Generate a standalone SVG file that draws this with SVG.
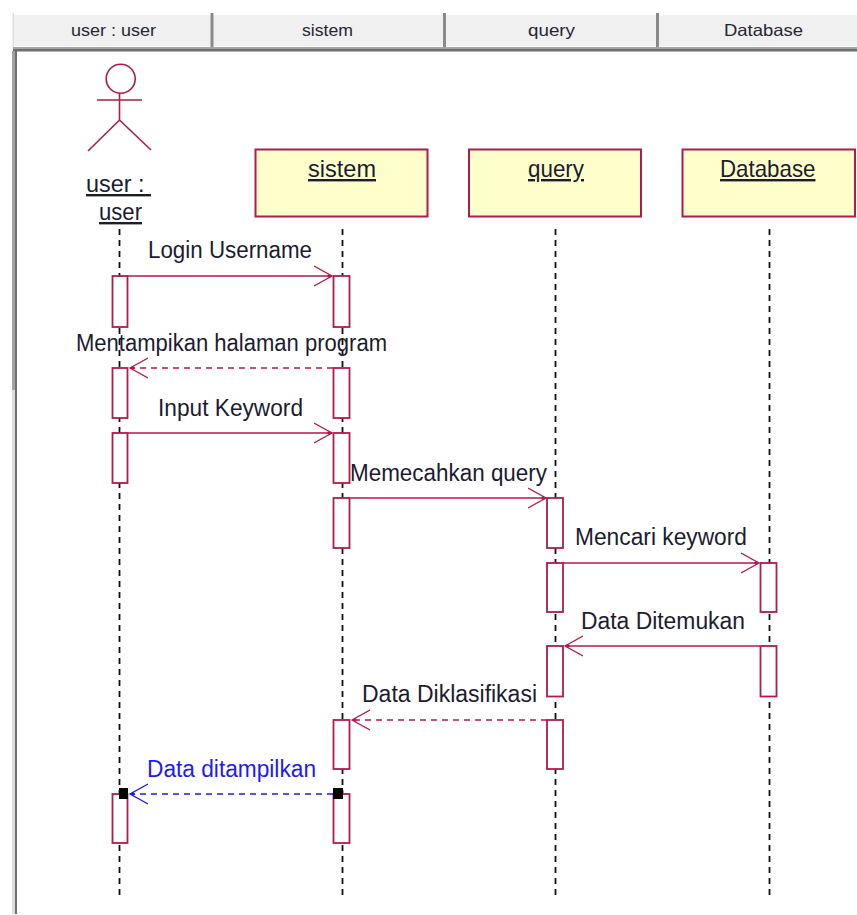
<svg xmlns="http://www.w3.org/2000/svg" width="857" height="915" viewBox="0 0 857 915">
<defs>
<marker id="open" markerUnits="userSpaceOnUse" markerWidth="22" markerHeight="24" refX="18" refY="12" orient="auto"><path d="M0 2 L18 12 L0 22" fill="none" stroke="context-stroke" stroke-width="1.3"/><circle cx="15" cy="12" r="1.7" fill="context-stroke"/></marker>
</defs>
<style>
text{font-family:"Liberation Sans",Arial,sans-serif;fill:#1c1c30}
.tab{fill:#f0f0f0}
.tabt{font-size:16.5px;fill:#262630}
.obj{fill:#ffffcb;stroke:#b01a4e;stroke-width:2}
.objt{font-size:24px;text-decoration:underline}
.life{stroke:#111;stroke-width:1.8;stroke-dasharray:6 5;fill:none}
.act{fill:#fff;stroke:#b01a4e;stroke-width:1.8}
.msg{stroke:#b01a4e;stroke-width:1.7;fill:none;marker-end:url(#open)}
.dash{stroke-dasharray:6 5}
.lab{font-size:23px}
.act-line{stroke:#b01a4e;stroke-width:1.6;fill:none}
</style>
<g id="header">
<rect x="14" y="15" width="843" height="32" class="tab"/>
<rect x="12.500" y="13" width="1.500" height="34" fill="#ddd"/>
<rect x="14" y="46" width="843" height="1" fill="#fff"/>
<rect x="210.500" y="13" width="3" height="34" fill="#8a8a8a"/>
<rect x="443" y="13" width="3" height="34" fill="#8a8a8a"/>
<rect x="656" y="13" width="3" height="34" fill="#8a8a8a"/>
<rect x="13" y="47" width="844" height="2" fill="#a4a4a4"/>
<rect x="13" y="49" width="844" height="2" fill="#6f6f6f"/>
<rect x="13" y="51" width="844" height="1" fill="#b4b4b4"/>
<rect x="12" y="51" width="3" height="339" fill="#a4a4a4"/>
<rect x="12" y="390" width="3" height="524" fill="#dcdcdc"/>
<rect x="15" y="51" width="2" height="863" fill="#6f6f6f"/>
<text class="tabt" x="71" y="36" textLength="85" lengthAdjust="spacingAndGlyphs">user : user</text>
<text class="tabt" x="302" y="36" textLength="51" lengthAdjust="spacingAndGlyphs">sistem</text>
<text class="tabt" x="528" y="36" textLength="47" lengthAdjust="spacingAndGlyphs">query</text>
<text class="tabt" x="724" y="36" textLength="79" lengthAdjust="spacingAndGlyphs">Database</text>
</g>
<g id="lifelines">
<path class="life" d="M119.500 229V895"/>
<path class="life" d="M342.500 229V895"/>
<path class="life" d="M555.500 229V895"/>
<path class="life" d="M769.500 229V895"/>
</g>
<g id="user">
<circle cx="120.700" cy="78.700" r="14.500" fill="none" stroke="#b01a4e" stroke-width="1.600"/>
<path class="act-line" d="M119.500 93V120M97 100H142M119.500 120L88 151M119.500 120L151 150"/>
<text class="objt" x="86" y="192" xml:space="preserve" style="white-space:pre" textLength="65" lengthAdjust="spacingAndGlyphs">user : </text>
<text class="objt" x="99" y="220" textLength="43" lengthAdjust="spacingAndGlyphs">user</text>
</g>
<g id="sistem"><rect class="obj" x="255.500" y="149.500" width="172" height="67"/><text class="objt" x="308" y="177" textLength="68" lengthAdjust="spacingAndGlyphs">sistem</text></g>
<g id="query"><rect class="obj" x="469" y="149.500" width="172" height="67"/><text class="objt" x="528" y="177" textLength="56" lengthAdjust="spacingAndGlyphs">query</text></g>
<g id="database"><rect class="obj" x="682.500" y="149.500" width="172.500" height="67"/><text class="objt" x="720" y="177" textLength="95.500" lengthAdjust="spacingAndGlyphs">Database</text></g>
<g id="activations">
<rect class="act" x="112.500" y="276" width="15" height="51"/>
<rect class="act" x="333.500" y="276" width="16" height="51"/>
<rect class="act" x="112.500" y="368" width="15" height="50"/>
<rect class="act" x="333.500" y="368" width="16" height="50"/>
<rect class="act" x="112.500" y="433" width="15" height="50"/>
<rect class="act" x="333.500" y="433" width="16" height="50"/>
<rect class="act" x="333.500" y="498" width="16" height="50"/>
<rect class="act" x="547" y="498" width="16" height="50"/>
<rect class="act" x="547" y="563" width="16" height="49"/>
<rect class="act" x="760.500" y="563" width="16" height="49"/>
<rect class="act" x="547" y="646" width="16" height="50.500"/>
<rect class="act" x="760.500" y="646" width="16" height="50.500"/>
<rect class="act" x="333.500" y="720" width="16" height="49"/>
<rect class="act" x="547" y="720" width="16" height="49"/>
<rect class="act" x="112.500" y="794" width="15" height="49"/>
<rect class="act" x="333.500" y="794" width="16" height="49"/>
</g>
<g id="connectors">
<path class="msg" d="M128 276H332"/>
<path class="msg dash" d="M333 368H130"/>
<path class="msg" d="M128 433H332"/>
<path class="msg" d="M350 498H546"/>
<path class="msg" d="M563 563H759"/>
<path class="msg" d="M760 646H565"/>
<path class="msg dash" d="M547 720H352"/>
<path class="msg dash" d="M333 794H130" style="stroke:#1a1aff"/>
<rect x="119" y="788" width="9" height="11" fill="#000"/>
<rect x="333" y="788" width="10" height="11" fill="#000"/>
</g>
<g id="labels">
<text class="lab" x="148" y="258" textLength="164" lengthAdjust="spacingAndGlyphs">Login Username</text>
<text class="lab" x="76" y="350.500" textLength="311" lengthAdjust="spacingAndGlyphs">Mentampikan halaman program</text>
<text class="lab" x="158" y="415.500" textLength="145" lengthAdjust="spacingAndGlyphs">Input Keyword</text>
<text class="lab" x="350" y="481" textLength="197" lengthAdjust="spacingAndGlyphs">Memecahkan query</text>
<text class="lab" x="575" y="545" textLength="172" lengthAdjust="spacingAndGlyphs">Mencari keyword</text>
<text class="lab" x="581" y="629" textLength="164" lengthAdjust="spacingAndGlyphs">Data Ditemukan</text>
<text class="lab" x="362" y="702" textLength="175" lengthAdjust="spacingAndGlyphs">Data Diklasifikasi</text>
<text class="lab" x="147" y="777" textLength="169" lengthAdjust="spacingAndGlyphs" style="fill:#1a1aff">Data ditampilkan</text>
</g>
</svg>
